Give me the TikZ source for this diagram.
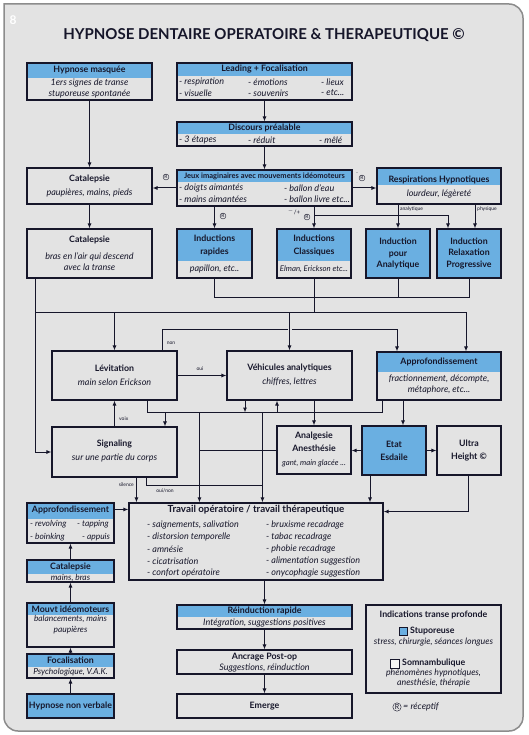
\documentclass[tikz,border=0pt]{standalone}
\usepackage{fontspec}
\setmainfont{Lato}
\usetikzlibrary{arrows.meta,calc,fit}

\definecolor{bggray}{HTML}{E3E3E3}
\definecolor{hblue}{HTML}{6AAFE1}
\definecolor{ink}{HTML}{16162A}
\definecolor{framegray}{HTML}{8C8C8C}

\tikzset{
  box/.style={draw=ink, line width=1.1pt, fill=bggray, inner sep=0pt},
  hbox/.style={box, path picture={\fill[hblue] (path picture bounding box.north west) rectangle ([yshift=-#1]path picture bounding box.north east);}},
  fbox/.style={box, fill=hblue},
  ttl/.style={font=\bfseries\fontsize{8.8}{12}\selectfont, text=ink, inner sep=0pt, align=center},
  itl/.style={font=\itshape\fontsize{9}{11}\selectfont, text=ink, inner sep=0pt, align=center},
  sml/.style={font=\itshape\fontsize{8.4}{10.5}\selectfont},
  lst/.style={itl, anchor=west},
  tag/.style={font=\fontsize{5}{6}\selectfont, text=ink, inner sep=0pt},
  rmark/.style={circle, draw=ink, line width=0.4pt, inner sep=0.4pt, font=\fontsize{5}{5}\selectfont, text=ink},
  arr/.style={draw=ink, line width=1pt, -{Latex[length=5pt,width=4pt]}},
  wire/.style={draw=ink, line width=1pt},
}

\begin{document}
\begin{tikzpicture}[x=1pt,y=-1pt]
  \fill[white] (0,0) rectangle (528,735);
  \useasboundingbox (0,0) rectangle (528,735);
  % frame
  \draw[framegray, line width=1.5pt, fill=bggray] (4,4) -- (300,4) [rounded corners=14pt] -- (523,4) -- (523,731) -- (4,731) -- (4,300) [sharp corners] -- (4,4) -- cycle;
  \node[font=\bfseries\fontsize{12}{12}\selectfont, text=white] (pg) at (13,20) {8};
  \node[font=\bfseries\fontsize{15}{18}\selectfont, text=ink] (title) at (264,35) {HYPNOSE DENTAIRE OPERATOIRE \& THERAPEUTIQUE ©};

  % boxes
  \node[hbox=15, fit={(27,63)(152,100)}] (hm) {};
  \node[hbox=13, fit={(177,63)(352,100)}] (lead) {};
  \node[hbox=12, fit={(177,122)(352,146)}] (disc) {};
  \node[box, fit={(27,168)(152,204)}] (cat1) {};
  \node[hbox=12, fit={(177,170)(352,206)}] (jeux) {};
  \node[hbox=17, fit={(377,168)(501,204)}] (resp) {};
  \node[box, fit={(27,229)(152,278)}] (cat2) {};
  \node[hbox=32, fit={(177,229)(252,278)}] (indr) {};
  \node[hbox=32, fit={(277,229)(351,278)}] (indc) {};
  \node[fbox, fit={(366,229)(430,278)}] (inda) {};
  \node[fbox, fit={(437,229)(501,278)}] (indp) {};
  \node[box, fit={(52,351)(177,400)}] (lev) {};
  \node[box, fit={(227,351)(352,400)}] (veh) {};
  \node[hbox=20, fit={(377,352)(501,400)}] (appr) {};
  \node[box, fit={(52,427)(177,477)}] (sig) {};
  \node[box, fit={(277,426)(351,474)}] (anal) {};
  \node[fbox, fit={(362,426)(426,475)}] (etat) {};
  \node[box, fit={(437,426)(501,475)}] (ultra) {};
  \node[box, fit={(129,503)(383,580)}] (trav) {};
  \node[hbox=16, fit={(27,503)(114,543)}] (appl) {};
  \node[hbox=14, fit={(27,560)(114,582)}] (catl) {};
  \node[hbox=12, fit={(27,603)(114,647)}] (mouv) {};
  \node[hbox=13, fit={(27,654)(114,678)}] (foca) {};
  \node[fbox, fit={(27,694)(114,718)}] (hnv) {};
  \node[hbox=12, fit={(177,605)(352,629)}] (rein) {};
  \node[box, fit={(177,650)(352,674)}] (ancr) {};
  \node[box, fit={(177,694)(352,718)}] (emer) {};
  \node[box, fit={(366,605)(501,693)}] (ind) {};

  % texts
  \node[ttl] (hm-t) at (89.5,70.5) {Hypnose masquée};
  \node[itl] (hm-b) at (89.5,88) {1ers signes de transe\\stuporeuse spontanée};
  \node[ttl] (lead-t) at (264.5,69.5) {Leading + Focalisation};
  \node[lst] (lead-a) at (179,82) {- respiration};
  \node[lst] (lead-b) at (248,82) {- émotions};
  \node[lst] (lead-c) at (321,82) {- lieux};
  \node[lst] (lead-d) at (179,93) {- visuelle};
  \node[lst] (lead-e) at (248,93) {- souvenirs};
  \node[lst] (lead-f) at (321,93) {- etc...};
  \node[ttl] (disc-t) at (264.5,128) {Discours préalable};
  \node[lst] (disc-a) at (179,140) {- 3 étapes};
  \node[lst] (disc-b) at (248,140) {- réduit};
  \node[lst] (disc-c) at (319,140) {- mêlé};
  \node[ttl] (cat1-t) at (89.5,179) {Catalepsie};
  \node[itl] (cat1-b) at (89.5,193) {paupières, mains, pieds};
  \node[ttl, font=\bfseries\fontsize{7.5}{8}\selectfont] (jeux-t) at (264.5,176) {Jeux imaginaires avec mouvements idéomoteurs};
  \node[lst] (jeux-a) at (179,188) {- doigts aimantés};
  \node[lst] (jeux-b) at (179,199) {- mains aimantées};
  \node[lst] (jeux-c) at (284,188) {- ballon d’eau};
  \node[lst] (jeux-d) at (284,199) {- ballon livre etc...};
  \node[ttl] (resp-t) at (439,180) {Respirations Hypnotiques};
  \node[itl] (resp-b) at (439,194) {lourdeur, légèreté};
  \node[ttl] (cat2-t) at (89.5,240) {Catalepsie};
  \node[itl] (cat2-b) at (89.5,261.5) {bras en l’air qui descend\\avec la transe};
  \node[ttl, font=\bfseries\fontsize{8.8}{13}\selectfont] (indr-t) at (214.5,245.5) {Inductions\\rapides};
  \node[itl] (indr-b) at (214.5,269) {papillon, etc..};
  \node[ttl, font=\bfseries\fontsize{8.8}{13}\selectfont] (indc-t) at (314,245.5) {Inductions\\Classiques};
  \node[itl, font=\itshape\fontsize{7.8}{9}\selectfont] (indc-b) at (314,269) {Elman, Erickson etc...};
  \node[ttl, font=\bfseries\fontsize{8.8}{11.5}\selectfont] (inda-t) at (398,253.5) {Induction\\pour\\Analytique};
  \node[ttl, font=\bfseries\fontsize{8.8}{11.5}\selectfont] (indp-t) at (469,253.5) {Induction\\Relaxation\\Progressive};
  \node[ttl] (lev-t) at (114.5,368) {Lévitation};
  \node[itl] (lev-b) at (114.5,382) {main selon Erickson};
  \node[ttl] (veh-t) at (289.5,368) {Véhicules analytiques};
  \node[itl] (veh-b) at (289.5,382) {chiffres, lettres};
  \node[ttl] (appr-t) at (439,362) {Approfondissement};
  \node[itl] (appr-b) at (439,384) {fractionnement, décompte,\\métaphore, etc...};
  \node[ttl] (sig-t) at (114.5,444) {Signaling};
  \node[itl] (sig-b) at (114.5,458) {sur une partie du corps};
  \node[ttl, font=\bfseries\fontsize{8.8}{13}\selectfont] (anal-t) at (314,441.5) {Analgesie\\Anesthésie};
  \node[itl, font=\itshape\fontsize{7.8}{9}\selectfont] (anal-b) at (314,463) {gant, main glacée ...};
  \node[ttl, font=\bfseries\fontsize{8.8}{13}\selectfont] (etat-t) at (394,450.5) {Etat\\Esdaile};
  \node[ttl, font=\bfseries\fontsize{8.8}{13}\selectfont] (ultra-t) at (469,450.5) {Ultra\\Height ©};
  \node[ttl, font=\bfseries\fontsize{9.8}{11}\selectfont] (trav-t) at (256,510) {Travail opératoire / travail thérapeutique};
  \foreach \t [count=\i] in {{- saignements, salivation}, - distorsion temporelle, - amnésie, - cicatrisation, - confort opératoire}
    \node[lst] (trav-l\i) at (147,513+12*\i) {\t};
  \foreach \t [count=\i] in {- bruxisme recadrage, - tabac recadrage, - phobie recadrage, - alimentation suggestion, - onycophagie suggestion}
    \node[lst] (trav-r\i) at (266,513+12*\i) {\t};
  \node[ttl] (appl-t) at (70.5,510) {Approfondissement};
  \node[lst, sml] (appl-a) at (30,524) {- revolving};
  \node[lst, sml] (appl-b) at (77,524) {- tapping};
  \node[lst, sml] (appl-c) at (30,537) {- boinking};
  \node[lst, sml] (appl-d) at (82,537) {- appuis};
  \node[ttl] (catl-t) at (70.5,566.5) {Catalepsie};
  \node[itl, sml] (catl-b) at (70.5,577.5) {mains, bras};
  \node[ttl] (mouv-t) at (70.5,609) {Mouvt idéomoteurs};
  \node[itl, sml] (mouv-b) at (70.5,624.5) {balancements, mains\\paupières};
  \node[ttl] (foca-t) at (70.5,660) {Focalisation};
  \node[itl, sml] (foca-b) at (70.5,672) {Psychologique, V.A.K.};
  \node[ttl] (hnv-t) at (70.5,706) {Hypnose non verbale};
  \node[ttl] (rein-t) at (264.5,611) {Réinduction rapide};
  \node[itl] (rein-b) at (264.5,623) {Intégration, suggestions positives};
  \node[ttl] (ancr-t) at (264.5,657) {Ancrage Post-op};
  \node[itl] (ancr-b) at (264.5,668) {Suggestions, réinduction};
  \node[ttl] (emer-t) at (264.5,706) {Emerge};
  % legend
  \node[ttl] (ind-t) at (433.5,615) {Indications transe profonde};
  \node[draw=ink, fill=hblue, line width=0.6pt, minimum size=8pt, inner sep=0pt] (sq1) at (403,631) {};
  \node[ttl, anchor=west] (sq1-t) at (410,631) {Stuporeuse};
  \node[itl, font=\itshape\fontsize{8.8}{9}\selectfont] (sq1-b) at (433.5,642) {stress, chirurgie, séances longues};
  \node[draw=ink, fill=white!60!bggray, line width=0.6pt, minimum size=9pt, inner sep=0pt] (sq2) at (394.5,663.5) {};
  \node[ttl, anchor=west] (sq2-t) at (402,663) {Somnambulique};
  \node[itl, font=\itshape\fontsize{8.8}{10}\selectfont] (sq2-b) at (433.5,678) {phénomènes hypnotiques,\\anesthésie, thérapie};
  \node[rmark, font=\fontsize{7}{7}\selectfont, inner sep=0.6pt] (rc) at (397,707) {R};
  \node[itl, anchor=west] (rc-t) at (403,707) {= réceptif};

  % connectors, top part
  \draw[arr] (hm.south) -- (cat1.north);
  \draw[arr] (lead.south) -- (disc.north);
  \draw[arr] (disc.south) -- (jeux.north);
  \draw[arr] (cat1.south) -- (cat2.north);
  \draw[arr] (jeux.west) -- (jeux.west -| cat1.east);
  \node[rmark] (r1) at (166,177) {R};
  \draw[arr] (jeux.east) -- (jeux.east -| resp.west);
  \node[tag] (r2m) at (357,175) {¯};
  \node[rmark] (r2) at (362,178) {R};
  \draw[arr] (jeux.south -| indr.north) -- (indr.north);
  \node[rmark] (r3) at (223,216) {R};
  \draw[arr] (jeux.south -| indc.north) -- (indc.north);
  \node[tag, font=\fontsize{6}{6}\selectfont] (r4m) at (294,212) {$^{-}$/+};
  \node[rmark] (r4) at (307,217) {R};
  \coordinate (split) at ($(jeux.south -| indc.north)+(0,9)$);
  \coordinate (pin) at ($(indp.north)+(-21,0)$);
  \draw[arr] (split) -| (pin);
  \draw[arr] (resp.south -| inda.north) -- (inda.north);
  \node[tag, anchor=west] (t-ana) at (400,209) {analytique};
  \coordinate (pphy) at ($(indp.north)+(6,0)$);
  \draw[arr] (resp.south -| pphy) -- (pphy);
  \node[tag, anchor=west] (t-phy) at (477,209) {physique};

  % buses under the inductions
  \coordinate (c2) at ($(cat2.south west)+(9,0)$);
  \coordinate (busR) at ($(appr.north)+(27,-39)$);
  \coordinate (bus2) at ($(indr.south)+(0,19)$);
  \draw[arr] (c2) |- (sig.west);
  \draw[wire] (c2 |- busR) -- (busR);
  \draw[wire] (indc.south) -- (indc.south |- busR);
  \draw[wire] (indr.south) -- (bus2) -- (bus2 -| indp.south) -- (indp.south);
  \draw[wire] (inda.south) -- (inda.south |- bus2);
  \draw[arr] (lev.north |- busR) -- (lev.north);
  \draw[arr] (busR) -- (busR |- appr.north);
  \coordinate (n1) at ($(lev.north)+(47.5,-21)$);
  \coordinate (n2) at ($(appr.north)+(-42,-22)$);
  \draw[arr] (n1 |- lev.north) -- (n1) -- (n2) -- (n2 |- appr.north);
  \node[tag] (t-non) at (171,343) {non};
  \draw[arr, preaction={draw=bggray, line width=4pt, -, shorten <=3pt, shorten >=4pt}] (veh.north |- busR) -- (veh.north);
  \draw[arr] (lev.east) -- (veh.west);
  \node[tag] (t-oui) at (200,369) {oui};

  % middle part
  \coordinate (lb1) at ($(lev.south)+(32.5,12)$);
  \coordinate (lb2) at ($(appr.south)+(-57,12)$);
  \draw[wire] (lb1 |- lev.south) -- (lb1) -- (lb2) -- (lb2 |- appr.south);
  \coordinate (sgin) at ($(sig.north)+(50.5,0)$);
  \draw[arr] (sgin |- lb1) -- (sgin);
  \coordinate (vhin) at ($(veh.south)+(-12.5,0)$);
  \draw[arr] (vhin |- lb1) -- (vhin);
  \coordinate (vhout) at ($(veh.south)+(-44.5,0)$);
  \draw[arr] (vhout) -- (vhout |- lb1);
  \draw[arr] (veh.south -| anal.north) -- (anal.north);
  \draw[arr] (sig.north) -- (lev.south);
  \node[tag, anchor=west] (t-voix) at (119,419) {voix};
  \coordinate (d1) at ($(trav.north west)+(71,0)$);
  \coordinate (d2) at ($(trav.north west)+(134,0)$);
  \draw[arr] (d1 |- lb1) -- (d1);
  \draw[arr] (d2 |- lb1) -- (d2);
  \draw[wire] (anal.west) -- (anal.west -| d1);
  \coordinate (esin) at ($(etat.north)+(9,0)$);
  \draw[arr] (esin |- appr.south) -- (esin);
  \draw[arr] (etat.west) -- (etat.west -| anal.east);
  \draw[arr] (etat.east) -- (etat.east -| ultra.west);
  \coordinate (esout) at ($(etat.south)+(-24,0)$);
  \draw[arr] (esout) -- (esout |- trav.north);
  \coordinate (ub) at ($(ultra.south)+(-1,36)$);
  \draw[arr] (ultra.south -| ub) -- (ub) -- (ub -| trav.east);
  \coordinate (sil) at ($(sig.south west)+(85,0)$);
  \draw[arr] (sil) -- (sil |- trav.north);
  \node[tag, anchor=east] (t-sil) at (134,485) {silence};
  \coordinate (on1) at ($(sig.south west)+(95,8)$);
  \draw[wire] (on1 |- sig.south) -- (on1) -- (on1 -| d2);
  \node[tag] (t-on) at (165,491) {oui/non};

  % bottom part
  \coordinate (apo) at ($(appl.north east)+(0,7)$);
  \draw[arr] (apo) -- (apo -| trav.west);
  \draw[arr] (catl.north) -- (appl.south);
  \draw[arr] (mouv.north) -- (catl.south);
  \draw[arr] (foca.north) -- (mouv.south);
  \draw[arr] (hnv.north) -- (foca.south);
  \draw[arr] (rein.north |- trav.south) -- (rein.north);
  \draw[arr] (rein.south) -- (ancr.north);
  \draw[arr] (ancr.south) -- (emer.north);
\end{tikzpicture}
\end{document}
